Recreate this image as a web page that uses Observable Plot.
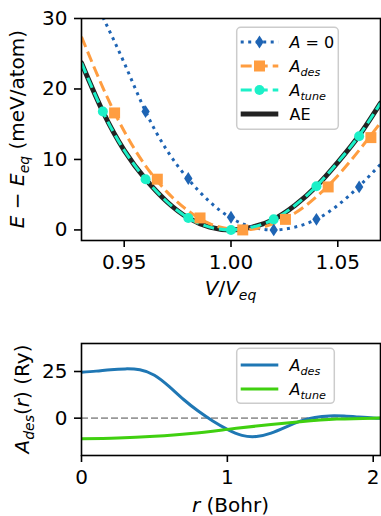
<!DOCTYPE html>
<html><head><meta charset="utf-8">
<script src="https://cdn.jsdelivr.net/npm/d3@7"></script>
<script src="https://cdn.jsdelivr.net/npm/@observablehq/plot@0.6"></script>
<style>
body{margin:0;background:#fff;}
#chart{width:381px;height:516px;position:relative;font-family:"DejaVu Sans";background:#fff;}
svg{display:block}
</style></head><body><div id="chart"></div>
<script>
// ---------- top panel data ----------
const vGrid      = [0.93, 0.94, 0.95, 0.96, 0.97, 0.98, 0.99, 1.00, 1.01, 1.02, 1.03, 1.04, 1.05, 1.06, 1.07];
const aeCurve    = [23.7, 16.8, 11.3, 7.2, 4.0, 1.7, 0.4, 0.0, 0.4, 1.5, 3.5, 6.2, 9.6, 13.4, 18.0];
const tuneCurve  = [23.7, 16.8, 11.3, 7.2, 4.0, 1.7, 0.4, 0.0, 0.4, 1.5, 3.5, 6.2, 9.6, 13.4, 18.0];
const desCurve   = [27.4, 20.2, 14.0, 9.1, 5.4, 2.7, 0.9, 0.1, 0.1, 0.9, 2.4, 4.7, 7.7, 11.3, 15.2];
const a0Grid     = [0.94, 0.95, 0.96, 0.97, 0.98, 0.99, 1.00, 1.01, 1.02, 1.03, 1.04, 1.05, 1.06, 1.07];
const a0Curve    = [30.2, 23.7, 16.8, 11.3, 7.2, 4.0, 1.7, 0.4, 0.0, 0.4, 1.5, 3.5, 6.2, 9.3];

const tuneV   = [0.94, 0.96, 0.98, 1.00, 1.02, 1.04, 1.06];
const tuneE   = [16.8, 7.2, 1.7, 0.0, 1.5, 6.2, 13.3];
const desV    = [0.9455, 0.9655, 0.9855, 1.0055, 1.0255, 1.0455, 1.0655];
const desE    = [16.6, 7.2, 1.7, 0.0, 1.5, 6.1, 13.1];
const a0V     = [0.96, 0.98, 1.00, 1.02, 1.04, 1.06];
const a0E     = [16.8, 7.3, 1.8, 0.0, 1.5, 6.1];

const xTicksTop = [0.95, 1.00, 1.05];
const yTicksTop = [0, 10, 20, 30];

// ---------- bottom panel data ----------
const rGrid   = [0, 0.1, 0.2, 0.3, 0.4, 0.5, 0.6, 0.7, 0.8, 0.9, 1.0, 1.1, 1.2, 1.3, 1.4, 1.5, 1.6, 1.7, 1.8, 1.9, 2.0, 2.05];
const aDesR   = [24.6, 25.2, 26.0, 26.4, 25.9, 23.0, 17.0, 10.0, 3.8, -1.5, -6.0, -9.2, -9.8, -8.0, -4.8, -1.6, 0.4, 1.2, 1.1, 0.6, 0.1, 0.0];
const rGridT  = [0, 0.25, 0.5, 0.75, 1.0, 1.25, 1.5, 1.75, 2.0, 2.05];
const aTuneR  = [-11.0, -10.6, -9.7, -8.2, -6.0, -3.8, -1.9, -0.5, 0.0, 0.0];
const xTicksBot = [0, 1, 2];
const yTicksBot = [0, 25];

// ---------- colours ----------
const BLUE0 = "#1e64b4", ORANGE = "#ff9d40", CYAN = "#1cf0c8", AEC = "#222222";
const BLUE = "#1f77b4", GREEN = "#40d010";

const zip = (xs, ys) => xs.map((x, i) => ({x, y: ys[i]}));

const thinDiamond = {
  draw(ctx, size) {
    const s = Math.sqrt(size / Math.PI), w = 0.65 * s;
    ctx.moveTo(0, -s); ctx.lineTo(w, 0); ctx.lineTo(0, s); ctx.lineTo(-w, 0); ctx.closePath();
  }
};

const style = {fontFamily: "DejaVu Sans", fontSize: "20px", background: "white", color: "black", overflow: "visible"};

const topPlot = Plot.plot({
  width: 381, height: 300,
  marginTop: 18, marginBottom: 60, marginLeft: 81, marginRight: 1,
  style,
  x: {domain: [0.93, 1.07]},
  y: {domain: [-1.5, 30]},
  marks: [
    Plot.line(zip(vGrid, aeCurve), {x: "x", y: "y", curve: "natural", stroke: AEC, strokeWidth: 5, clip: true}),
    Plot.line(zip(a0Grid, a0Curve), {x: "x", y: "y", curve: "natural", stroke: BLUE0, strokeWidth: 3, strokeDasharray: "3 4.5", strokeLinecap: "butt", clip: true}),
    Plot.line(zip(vGrid, desCurve), {x: "x", y: "y", curve: "natural", stroke: ORANGE, strokeWidth: 3, strokeDasharray: "11 5", strokeLinecap: "butt", clip: true}),
    Plot.line(zip(vGrid, tuneCurve), {x: "x", y: "y", curve: "natural", stroke: CYAN, strokeWidth: 3, strokeDasharray: "11 5", strokeLinecap: "butt", clip: true}),
    Plot.dot(zip(a0V, a0E), {x: "x", y: "y", symbol: thinDiamond, r: 6.4, fill: BLUE0}),
    Plot.dot(zip(desV, desE), {x: "x", y: "y", symbol: "square", r: 6.2, fill: ORANGE}),
    Plot.dot(zip(tuneV, tuneE), {x: "x", y: "y", symbol: "circle", r: 5, fill: CYAN}),
    Plot.axisX({ticks: xTicksTop, tickFormat: d3.format(".2f"), tickSize: 7, tickPadding: 7, strokeWidth: 1.6, label: null}),
    Plot.axisY({ticks: yTicksTop, tickFormat: d3.format("d"), tickSize: 7, tickPadding: 7, strokeWidth: 1.6, label: null}),
    Plot.frame({stroke: "black", strokeWidth: 1.6})
  ]
});

const botPlot = Plot.plot({
  width: 381, height: 216,
  marginTop: 43, marginBottom: 61, marginLeft: 81, marginRight: 1,
  style,
  x: {domain: [0, 2.05]},
  y: {domain: [-20, 40]},
  marks: [
    Plot.ruleY([0], {stroke: "#999", strokeWidth: 1.6, strokeDasharray: "7 3"}),
    Plot.line(zip(rGrid, aDesR), {x: "x", y: "y", curve: "natural", stroke: BLUE, strokeWidth: 3, clip: true}),
    Plot.line(zip(rGridT, aTuneR), {x: "x", y: "y", curve: "natural", stroke: GREEN, strokeWidth: 3, clip: true}),
    Plot.axisX({ticks: xTicksBot, tickFormat: d3.format("d"), tickSize: 7, tickPadding: 7, strokeWidth: 1.6, label: null}),
    Plot.axisY({ticks: yTicksBot, tickFormat: d3.format("d"), tickSize: 7, tickPadding: 7, strokeWidth: 1.6, label: null}),
    Plot.frame({stroke: "black", strokeWidth: 1.6})
  ]
});

const chart = document.getElementById("chart");
chart.appendChild(topPlot);
chart.appendChild(botPlot);

// ---------- math-style text helper ----------
// parts: [text, kind] with kind "" normal, "i" italic, "s" italic subscript
function mathText(svg, x, y, parts, opts = {}) {
  const fs = opts.size || 20;
  const t = d3.select(svg).append("text")
    .attr("font-family", "DejaVu Sans").attr("font-size", fs).attr("fill", "black")
    .attr("text-anchor", opts.anchor || "middle");
  if (opts.rotate) t.attr("transform", `translate(${x},${y}) rotate(-90)`);
  else t.attr("x", x).attr("y", y);
  if (opts.dy) t.attr("dy", opts.dy);
  let shifted = false;
  const sh = fs * 0.25;
  for (const [txt, kind] of parts) {
    const ts = t.append("tspan").text(txt).attr("xml:space", "preserve");
    if (kind === "i" || kind === "s") ts.attr("font-style", "italic");
    if (kind === "s") {
      ts.attr("font-size", fs * 0.7);
      if (!shifted) { ts.attr("dy", sh); shifted = true; }
    } else if (shifted) { ts.attr("dy", -sh); shifted = false; }
  }
  return t;
}

// axis labels
mathText(topPlot, 230.5, 295, [["V", "i"], ["/", ""], ["V", "i"], ["eq", "s"]]);
mathText(topPlot, 24, 129, [["E", "i"], [" \u2212 ", ""], ["E", "i"], ["eq", "s"], [" (meV/atom)", ""]], {rotate: true});
mathText(botPlot, 230.5, 212, [["r", "i"], [" (Bohr)", ""]]);
mathText(botPlot, 29, 99, [["A", "i"], ["des", "s"], ["(", ""], ["r", "i"], [")", ""], [" (Ry)", ""]], {rotate: true});

// ---------- legends ----------
function legendBox(svg, x, y, w, h) {
  d3.select(svg).append("rect").attr("x", x).attr("y", y).attr("width", w).attr("height", h)
    .attr("rx", 4).attr("fill", "white").attr("fill-opacity", 0.8)
    .attr("stroke", "#cccccc").attr("stroke-width", 1.5);
}
function legendLine(svg, y, color, width, dash) {
  const l = d3.select(svg).append("line").attr("x1", 240.7).attr("x2", 278.3).attr("y1", y).attr("y2", y)
    .attr("stroke", color).attr("stroke-width", width);
  if (dash) l.attr("stroke-dasharray", dash);
}
const cx = 259.5, tx = 289.5;
const tsvg = topPlot;
legendBox(tsvg, 236.7, 27.3, 101.6, 102);
const rows = [42, 66, 90, 114];
legendLine(tsvg, rows[0], BLUE0, 3, "3 4.5");
d3.select(tsvg).append("path").attr("d", `M${cx},${rows[0]-6.4}L${cx+4.2},${rows[0]}L${cx},${rows[0]+6.4}L${cx-4.2},${rows[0]}Z`).attr("fill", BLUE0);
mathText(tsvg, tx, rows[0], [["A", "i"], [" = 0", ""]], {size: 16, anchor: "start", dy: "0.35em"});
legendLine(tsvg, rows[1], ORANGE, 3, "11 5");
d3.select(tsvg).append("rect").attr("x", cx - 5.5).attr("y", rows[1] - 5.5).attr("width", 11).attr("height", 11).attr("fill", ORANGE);
mathText(tsvg, tx, rows[1], [["A", "i"], ["des", "s"]], {size: 16, anchor: "start", dy: "0.35em"});
legendLine(tsvg, rows[2], CYAN, 3, "11 5");
d3.select(tsvg).append("circle").attr("cx", cx).attr("cy", rows[2]).attr("r", 5).attr("fill", CYAN);
mathText(tsvg, tx, rows[2], [["A", "i"], ["tune", "s"]], {size: 16, anchor: "start", dy: "0.35em"});
legendLine(tsvg, rows[3], AEC, 5, null);
mathText(tsvg, tx, rows[3], [["AE", ""]], {size: 16, anchor: "start", dy: "0.35em"});

const bsvg = botPlot;
legendBox(bsvg, 236.7, 48.3, 97.6, 55);
legendLine(bsvg, 65, BLUE, 3, null);
mathText(bsvg, tx, 65, [["A", "i"], ["des", "s"]], {size: 16, anchor: "start", dy: "0.35em"});
legendLine(bsvg, 89, GREEN, 3, null);
mathText(bsvg, tx, 89, [["A", "i"], ["tune", "s"]], {size: 16, anchor: "start", dy: "0.35em"});
</script>
</body></html>
